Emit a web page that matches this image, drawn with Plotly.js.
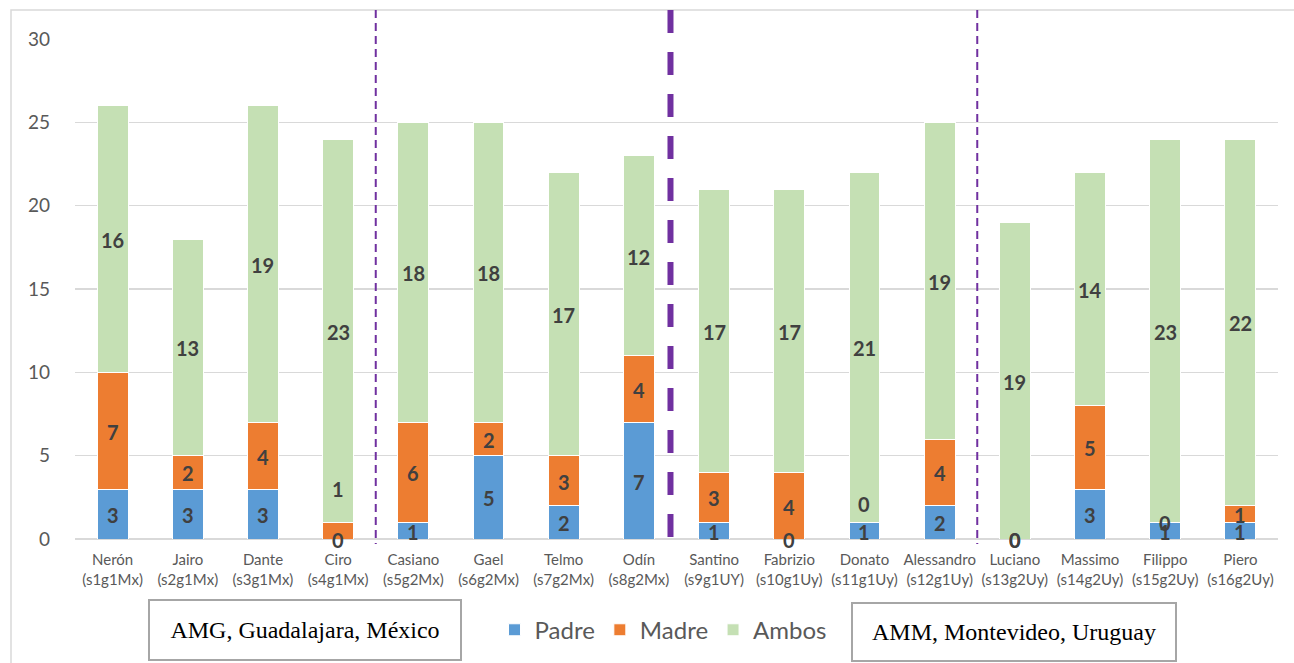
<!DOCTYPE html>
<html>
<head>
<meta charset="utf-8">
<script src="https://cdn.plot.ly/plotly-3.0.1.min.js"></script>
<style>html,body{margin:0;padding:0;background:#fff;}#chart{width:1294px;height:663px;}</style>
</head>
<body>
<div id="chart"></div>
<script>
const names = ["Nerón","Jairo","Dante","Ciro","Casiano","Gael","Telmo","Odín","Santino","Fabrizio","Donato","Alessandro","Luciano","Massimo","Filippo","Piero"];
const codes = ["s1g1Mx","s2g1Mx","s3g1Mx","s4g1Mx","s5g2Mx","s6g2Mx","s7g2Mx","s8g2Mx","s9g1UY","s10g1Uy","s11g1Uy","s12g1Uy","s13g2Uy","s14g2Uy","s15g2Uy","s16g2Uy"];
const padre = [3,3,3,0,1,5,2,7,1,0,1,2,0,3,1,1];
const madre = [7,2,4,1,6,2,3,4,3,4,0,4,0,5,0,1];
const ambos = [16,13,19,23,18,18,17,12,17,17,21,19,19,14,23,22];
const yTicks = [0,5,10,15,20,25,30];
const regionLabels = ["AMG, Guadalajara, México","AMM, Montevideo, Uruguay"];

const cats = names.map((n,i)=> n + "<br>(" + codes[i] + ")");
const colors = {Padre:"#5b9bd5", Madre:"#ed7d31", Ambos:"#c5e0b4"};

function barTrace(name, vals){
  return {type:"bar", name:name, x:cats, y:vals,
    marker:{color:colors[name], line:{color:"#ffffff", width:1}},
    hoverinfo:"skip"};
}
const traces = [barTrace("Padre",padre), barTrace("Madre",madre), barTrace("Ambos",ambos)];

// data labels at segment middles
const labelFont = {family:"Lato, 'Open Sans', sans-serif", size:20, color:"#404040", weight:"bold"};
const annotations = [];
const series = [padre, madre, ambos];
const nudge = {"1-3":-42, "1-10":-18}; // manual label offsets (px) seen in the reference
series.forEach((vals, s)=>{
  vals.forEach((v,i)=>{
    let base = 0;
    for(let k=0;k<s;k++) base += series[k][i];
    const key = s + "-" + i;
    annotations.push({x:cats[i], y: base + v/2, xref:"x", yref:"y", text:"<b>"+v+"</b>",
      showarrow:false, font:labelFont, yshift: nudge[key] ? -nudge[key] : -1});
  });
});

// region boxes
const boxFont = {family:"'Liberation Serif', 'Times New Roman', serif", size:24, color:"#000"};
annotations.push({xref:"paper", yref:"paper", x:0.1912, y:-0.1816, xanchor:"center", yanchor:"middle", text:regionLabels[0], showarrow:false,
  font:boxFont, width:310, height:58, bordercolor:"#a6a6a6", borderwidth:2, borderpad:0, bgcolor:"rgba(255,255,255,0)"});
annotations.push({xref:"paper", yref:"paper", x:0.7806, y:-0.1856, xanchor:"center", yanchor:"middle", text:regionLabels[1], showarrow:false,
  font:boxFont, width:322, height:56, bordercolor:"#a6a6a6", borderwidth:2, borderpad:0, bgcolor:"rgba(255,255,255,0)"});

const purple = "#7030a0";
const shapes = [
  {type:"rect", xref:"paper", yref:"paper", x0:-0.0532, x1:1.05, y0:-0.3, y1:1.058, line:{color:"#d9d9d9", width:1.5}, layer:"below"},
  {type:"line", xref:"x", yref:"paper", x0:3.5, x1:3.5, y0:1.058, y1:-0.01, line:{color:purple, width:2, dash:"8px,5px"}},
  {type:"line", xref:"x", yref:"paper", x0:7.42, x1:7.42, y0:1.058, y1:0.004, line:{color:purple, width:6, dash:"23px,19px"}},
  {type:"line", xref:"x", yref:"paper", x0:11.5, x1:11.5, y0:1.058, y1:-0.01, line:{color:purple, width:2, dash:"8px,5px"}}
];

const layout = {
  width:1294, height:663,
  margin:{l:75, r:16, t:39, b:123},
  barmode:"stack", bargap:0.59,
  paper_bgcolor:"#fff", plot_bgcolor:"#fff",
  font:{family:"Lato, 'Open Sans', sans-serif", color:"#595959"},
  showlegend:true,
  legend:{orientation:"h", x:0.4888, xanchor:"center", y:-0.18, yanchor:"middle",
    font:{size:24, color:"#595959"}, itemwidth:30, traceorder:"normal"},
  xaxis:{type:"category", tickfont:{size:15, color:"#595959"}, showgrid:false, showline:false, ticks:"", ticklabelstandoff:10, automargin:false},
  yaxis:{range:[0,30], tickvals:yTicks, tickfont:{size:19, color:"#595959"}, gridcolor:"#d9d9d9", gridwidth:1.5,
    zeroline:true, zerolinecolor:"#d9d9d9", zerolinewidth:1.5, showline:false, ticks:"", ticklabelstandoff:24, automargin:false},
  annotations:annotations,
  shapes:shapes
};

Plotly.newPlot("chart", traces, layout, {staticPlot:true, displayModeBar:false});
</script>
</body>
</html>
